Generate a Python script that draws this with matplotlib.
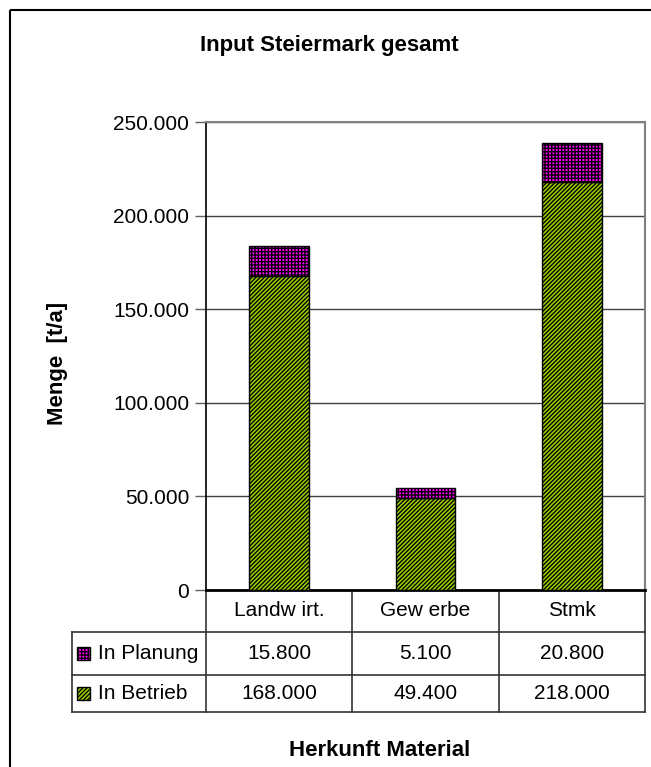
import matplotlib
matplotlib.use("Agg")
import matplotlib.pyplot as plt
from matplotlib.lines import Line2D
from matplotlib.patches import Rectangle

categories = ["Landw irt.", "Gew erbe", "Stmk"]
series_names = ["In Planung", "In Betrieb"]
betrieb = [168000, 49400, 218000]
planung = [15800, 5100, 20800]
yticks = [0, 50000, 100000, 150000, 200000, 250000]

title = "Input Steiermark gesamt"
ylabel = "Menge  [t/a]"
xlabel = "Herkunft Material"

def fmt(v):
    return f"{v:,.0f}".replace(",", ".")

plt.rcParams['font.family'] = ['Liberation Sans', 'DejaVu Sans']
plt.rcParams['hatch.linewidth'] = 0.95
plt.rcParams['hatch.color'] = 'black'

W, H = 651, 767
fig = plt.figure(figsize=(W / 100, H / 100), dpi=100)
fig.patch.set_facecolor('white')

def fx(px):
    return px / W

def fy(py):
    return 1 - py / H

# plot area in pixels
L, R, T, B = 206, 645, 122, 590
ax = fig.add_axes([fx(L), fy(B), fx(R) - fx(L), fy(T) - fy(B)])

x = list(range(len(categories)))
green = '#9ACC00'
magenta = '#FF00FF'
h_green = '////////'
h_mag = '+++++'
ax.bar(x, betrieb, width=0.41, color=green, edgecolor='black', hatch=h_green, linewidth=1, zorder=3)
ax.bar(x, planung, bottom=betrieb, width=0.41, color=magenta, edgecolor='black', hatch=h_mag, linewidth=1, zorder=3)

ax.set_xlim(-0.5, len(categories) - 0.5)
ax.set_ylim(0, 250000)
ax.set_yticks(yticks)
ax.set_yticklabels([fmt(v) for v in yticks], fontsize=15)
ax.set_xticks([])
ax.yaxis.grid(True, color='#404040', linewidth=1)
ax.set_axisbelow(True)
ax.tick_params(axis='y', direction='out', length=8, width=1, color='#606060', pad=4)
for s in ['top', 'right']:
    ax.spines[s].set_color('#808080')
    ax.spines[s].set_linewidth(1.5)
ax.spines['left'].set_color('black')
ax.spines['bottom'].set_color('black')
ax.spines['left'].set_linewidth(1.2)
ax.spines['bottom'].set_linewidth(2)

# overlay for table and frame
ov = fig.add_axes([0, 0, 1, 1], zorder=-1)
ov.set_xlim(0, W)
ov.set_ylim(H, 0)
ov.axis('off')

# outer frame
ov.add_patch(Rectangle((10, 10), W + 10, H + 10, fill=False, edgecolor='black', linewidth=1.5))

# Title and labels
fig.text(fx(329), fy(45), title, ha='center', va='center', fontsize=16, fontweight='bold')
fig.text(fx(58), fy(363), ylabel, ha='center', va='center', rotation=90, fontsize=16, fontweight='bold')
fig.text(fx(380), fy(751), xlabel, ha='center', va='center', fontsize=16, fontweight='bold')

# data table
col_edges = [L + (R - L) * i / len(categories) for i in range(len(categories) + 1)]
row_y = [B, 632, 675, 712]
leg_left = 72
lc = '#333333'
for xe in col_edges:
    ov.add_line(Line2D([xe, xe], [B, row_y[-1]], color=lc, linewidth=1.2))
ov.add_line(Line2D([leg_left, leg_left], [row_y[1], row_y[-1]], color=lc, linewidth=1.2))
for yy in row_y[1:]:
    ov.add_line(Line2D([leg_left, R], [yy, yy], color=lc, linewidth=1.2))

centers = [(col_edges[i] + col_edges[i + 1]) / 2 for i in range(len(categories))]
for c, cat in zip(centers, categories):
    ov.text(c, (row_y[0] + row_y[1]) / 2, cat, ha='center', va='center', fontsize=15)

rows = [(series_names[0], planung, magenta, h_mag), (series_names[1], betrieb, green, h_green)]
for i, (name, vals, col, hatch) in enumerate(rows):
    yc = (row_y[i + 1] + row_y[i + 2]) / 2
    ov.add_patch(Rectangle((77, yc - 6.5), 13, 13, facecolor=col, edgecolor='black', hatch=hatch, linewidth=1))
    ov.text(98, yc, name, ha='left', va='center', fontsize=15)
    for c, v in zip(centers, vals):
        ov.text(c, yc, fmt(v), ha='center', va='center', fontsize=15)

fig.savefig('out.png', dpi=100, facecolor='white')
